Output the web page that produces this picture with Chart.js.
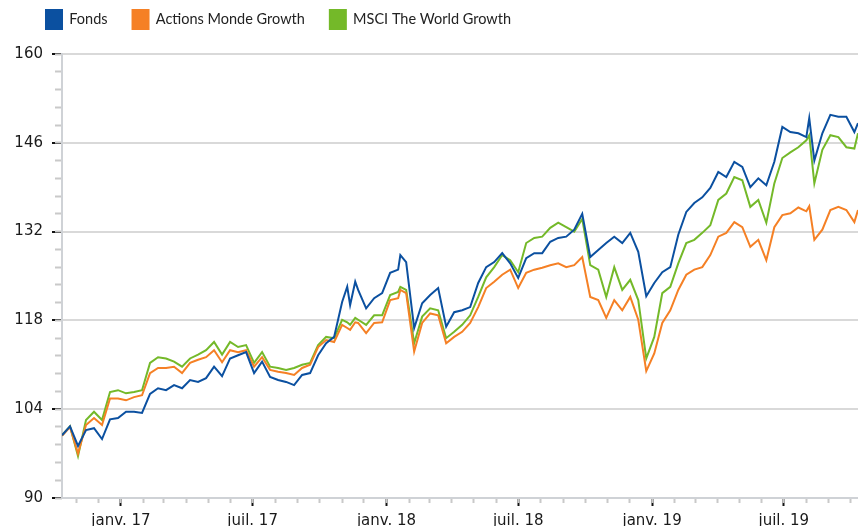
<!DOCTYPE html>
<html>
<head>
<meta charset="utf-8">
<script src="https://cdn.jsdelivr.net/npm/chart.js@4.4.1/dist/chart.umd.min.js"></script>
<style>
    html, body { margin: 0; padding: 0; background: #fff; }
    #wrap { width: 858px; height: 526px; }
</style>
</head>
<body>
<div id="wrap"><canvas id="perfChart" width="858" height="526"></canvas></div>
<script>
"use strict";

// Observation dates (about every 11 days, plus a few turning points)
var dates = [
    "2016-10-12", "2016-10-23", "2016-11-03", "2016-11-14", "2016-11-25", "2016-12-06", "2016-12-17", "2016-12-28",
    "2017-01-08", "2017-01-19", "2017-01-30", "2017-02-10", "2017-02-21", "2017-03-04", "2017-03-15", "2017-03-26",
    "2017-04-06", "2017-04-17", "2017-04-28", "2017-05-09", "2017-05-20", "2017-05-31", "2017-06-11", "2017-06-22",
    "2017-07-03", "2017-07-14", "2017-07-25", "2017-08-05", "2017-08-16", "2017-08-27", "2017-09-07", "2017-09-18",
    "2017-09-29", "2017-10-10", "2017-10-21", "2017-11-01", "2017-11-08", "2017-11-12", "2017-11-19", "2017-11-23",
    "2017-12-04", "2017-12-15", "2017-12-26", "2018-01-06", "2018-01-17", "2018-01-20", "2018-01-28", "2018-02-08",
    "2018-02-19", "2018-03-02", "2018-03-13", "2018-03-24", "2018-04-04", "2018-04-15", "2018-04-26", "2018-05-07",
    "2018-05-18", "2018-05-29", "2018-06-09", "2018-06-20", "2018-07-01", "2018-07-12", "2018-07-23", "2018-08-03",
    "2018-08-14", "2018-08-25", "2018-09-05", "2018-09-16", "2018-09-27", "2018-10-08", "2018-10-19", "2018-10-30",
    "2018-11-10", "2018-11-21", "2018-12-02", "2018-12-13", "2018-12-24", "2019-01-04", "2019-01-15", "2019-01-26",
    "2019-02-06", "2019-02-17", "2019-02-28", "2019-03-11", "2019-03-22", "2019-04-02", "2019-04-13", "2019-04-24",
    "2019-05-05", "2019-05-16", "2019-05-27", "2019-06-07", "2019-06-18", "2019-06-29", "2019-07-10", "2019-07-21",
    "2019-08-01", "2019-08-05", "2019-08-12", "2019-08-23", "2019-09-03", "2019-09-14", "2019-09-25", "2019-10-06",
    "2019-10-11"
];

var fonds = [
    99.9, 101.3, 98.2, 100.7, 101.0, 99.3, 102.4, 102.6,
    103.6, 103.6, 103.4, 106.4, 107.3, 107.0, 107.8, 107.3,
    108.6, 108.3, 108.9, 110.7, 109.2, 112.0, 112.5, 113.0,
    109.7, 111.5, 109.1, 108.6, 108.3, 107.8, 109.4, 109.7,
    112.5, 114.4, 115.4, 120.9, 123.3, 120.4, 124.1, 122.8,
    119.9, 121.5, 122.3, 125.5, 126.0, 128.3, 127.2, 116.8,
    120.7, 122.0, 123.1, 117.0, 119.3, 119.6, 120.1, 123.9,
    126.4, 127.2, 128.6, 127.0, 124.7, 127.8, 128.6, 128.6,
    130.4, 131.0, 131.2, 132.3, 134.8, 128.0, 129.1, 130.2,
    131.2, 130.2, 131.8, 128.8, 121.8, 123.9, 125.6, 126.4,
    131.5, 135.1, 136.5, 137.4, 138.9, 141.4, 140.6, 143.0,
    142.2, 139.0, 140.4, 139.3, 143.0, 148.5, 147.7, 147.5,
    146.9, 149.9, 143.2, 147.5, 150.4, 150.1, 150.1, 147.7,
    149.1
];

var actionsMonde = [
    99.8, 101.2, 97.0, 101.5, 102.6, 101.5, 105.7, 105.7,
    105.4, 105.9, 106.2, 109.7, 110.5, 110.5, 110.7, 109.7,
    111.3, 111.8, 112.2, 113.3, 111.4, 113.3, 113.0, 113.3,
    110.7, 112.2, 110.2, 109.9, 109.7, 109.4, 110.5, 111.0,
    113.8, 114.9, 114.6, 117.3, 116.8, 116.5, 117.7, 117.6,
    116.0, 117.6, 117.7, 121.2, 121.5, 122.8, 122.3, 113.1,
    117.6, 119.1, 118.8, 114.4, 115.4, 116.2, 117.6, 120.1,
    123.1, 124.1, 125.2, 126.0, 123.1, 125.5, 126.0, 126.3,
    126.7, 127.0, 126.4, 126.7, 128.0, 121.7, 121.2, 118.4,
    121.2, 119.6, 121.7, 118.1, 110.0, 112.8, 117.6, 119.6,
    122.8, 125.2, 126.0, 126.4, 128.3, 131.2, 131.8, 133.5,
    132.7, 129.6, 130.7, 127.5, 132.7, 134.6, 134.9, 135.8,
    135.2, 136.0, 130.7, 132.3, 135.4, 135.9, 135.4, 133.5,
    135.4
];

var msciWorld = [
    99.9, 101.3, 96.6, 102.3, 103.6, 102.3, 106.7, 107.0,
    106.5, 106.7, 107.0, 111.3, 112.2, 112.0, 111.5, 110.7,
    112.0, 112.6, 113.3, 114.6, 112.6, 114.6, 113.8, 114.1,
    111.3, 113.0, 110.7, 110.5, 110.2, 110.5, 111.0, 111.3,
    114.1, 115.4, 115.2, 118.1, 117.7, 117.3, 118.4, 118.1,
    117.3, 118.8, 118.8, 122.0, 122.5, 123.3, 122.8, 114.4,
    118.6, 119.9, 119.6, 115.2, 116.2, 117.3, 118.8, 121.7,
    124.8, 126.4, 128.3, 127.5, 125.6, 130.2, 131.0, 131.2,
    132.6, 133.4, 132.7, 132.0, 134.0, 126.7, 126.0, 121.7,
    126.4, 122.8, 124.4, 121.2, 112.0, 115.4, 122.3, 123.3,
    127.0, 130.2, 130.7, 131.8, 133.0, 137.0, 138.0, 140.6,
    140.1, 135.9, 137.0, 133.4, 139.6, 143.6, 144.5, 145.3,
    146.4, 147.2, 139.6, 144.9, 147.2, 146.9, 145.3, 145.1,
    147.5
];

var seriesLabels = ["Fonds", "Actions Monde Growth", "MSCI The World Growth"];
var seriesColors = ["#0b50a0", "#f58025", "#74b929"];
var yMajorTicks = [90, 104, 118, 132, 146, 160];
var monthNames = ["janv.", "févr.", "mars", "avr.", "mai", "juin", "juil.", "août", "sept.", "oct.", "nov.", "déc."];

// ------------------------------------------------------- //
// Helpers
// ------------------------------------------------------ //
var DAY = 86400000;
var ORIGIN = Date.UTC(2017, 0, 1);

function dayOf(str) {
    var p = str.split("-");
    return (Date.UTC(+p[0], +p[1] - 1, +p[2]) - ORIGIN) / DAY;
}

function toPoints(values) {
    return values.map(function (v, i) {
        return { x: dayOf(dates[i]), y: v };
    });
}

var xMin = dayOf(dates[0]);
var xMax = dayOf(dates[dates.length - 1]);

// month ticks (minor) and Jan / Jul ticks (major, labelled)
var monthTicks = [];
var majorTicks = [];
var majorLabels = [];
for (var yr = 2016; yr <= 2019; yr++) {
    for (var m = 0; m < 12; m++) {
        var d = (Date.UTC(yr, m, 1) - ORIGIN) / DAY;
        if (d < xMin || d > xMax) continue;
        monthTicks.push(d);
        if (m === 0 || m === 6) {
            majorTicks.push(d);
            majorLabels.push(monthNames[m] + " " + String(yr).slice(2));
        }
    }
}

var yMinorTicks = [];
for (var k = 0; k <= 25; k++) {
    yMinorTicks.push(90 + k * 2.8);
}

var tickFont = { family: "'DejaVu Sans', Verdana, sans-serif", size: 15 };
var axisGray = "#cfd2d6";

// legend sits a little right of and above its default spot
var legendShift = {
    id: "legendShift",
    afterInit: function (chart) {
        var origDraw = chart.legend.draw;
        chart.legend.draw = function () {
            var ctx = this.ctx;
            ctx.save();
            ctx.translate(21, -15);
            origDraw.apply(this, arguments);
            ctx.restore();
        };
    }
};

// ------------------------------------------------------- //
// Line Chart
// ------------------------------------------------------ //
var PERFCHART = document.getElementById("perfChart");
var perfChart = new Chart(PERFCHART, {
    type: "line",
    plugins: [legendShift],
    data: {
        datasets: [fonds, actionsMonde, msciWorld].map(function (vals, i) {
            return {
                label: seriesLabels[i],
                data: toPoints(vals),
                borderColor: seriesColors[i],
                backgroundColor: seriesColors[i],
                borderWidth: 2,
                pointRadius: 0,
                tension: 0,
                fill: false,
                xAxisID: "x",
                yAxisID: "y"
            };
        })
    },
    options: {
        responsive: false,
        animation: false,
        layout: { padding: 0 },
        plugins: {
            legend: {
                position: "top",
                align: "start",
                labels: {
                    boxWidth: 16,
                    boxHeight: 19,
                    padding: 25,
                    color: "#222",
                    font: { family: "Lato, 'Open Sans', sans-serif", size: 14.5 }
                }
            },
            tooltip: { enabled: false }
        },
        scales: {
            x: {
                type: "linear",
                position: "bottom",
                weight: 1,
                min: xMin,
                max: xMax,
                afterBuildTicks: function (scale) {
                    scale.ticks = majorTicks.map(function (v) { return { value: v }; });
                },
                afterFit: function (scale) { scale.height = 28; },
                ticks: {
                    autoSkip: false,
                    maxRotation: 0,
                    padding: 6,
                    color: "#1a1a1a",
                    font: tickFont,
                    callback: function (v, i) { return majorLabels[i]; }
                },
                grid: { drawOnChartArea: false, tickLength: 8, tickWidth: 2, tickColor: "#111" },
                border: { color: axisGray, width: 2 }
            },
            xMinor: {
                type: "linear",
                position: "bottom",
                weight: 0,
                min: xMin,
                max: xMax,
                afterBuildTicks: function (scale) {
                    scale.ticks = monthTicks.map(function (v) { return { value: v }; });
                },
                afterFit: function (scale) { scale.height = 0; },
                ticks: { display: false, autoSkip: false },
                grid: { drawOnChartArea: false, tickLength: 5, tickWidth: 2, tickColor: "#c9c9c9" },
                border: { display: false }
            },
            y: {
                position: "left",
                weight: 1,
                min: 90,
                max: 160,
                afterBuildTicks: function (scale) {
                    scale.ticks = yMajorTicks.map(function (v) { return { value: v }; });
                },
                afterFit: function (scale) { scale.width = 62; },
                ticks: { padding: 9, color: "#1a1a1a", font: tickFont },
                grid: { color: "#d9d9d9", lineWidth: 2, tickLength: 10, tickWidth: 2, tickColor: "#111" },
                border: { color: axisGray, width: 2 }
            },
            yMinor: {
                position: "left",
                weight: 0,
                min: 90,
                max: 160,
                afterBuildTicks: function (scale) {
                    scale.ticks = yMinorTicks.map(function (v) { return { value: v }; });
                },
                afterFit: function (scale) { scale.width = 0; },
                ticks: { display: false },
                grid: { drawOnChartArea: false, tickLength: 7, tickWidth: 2, tickColor: "#c9c9c9" },
                border: { display: false }
            }
        }
    }
});
</script>
</body>
</html>
